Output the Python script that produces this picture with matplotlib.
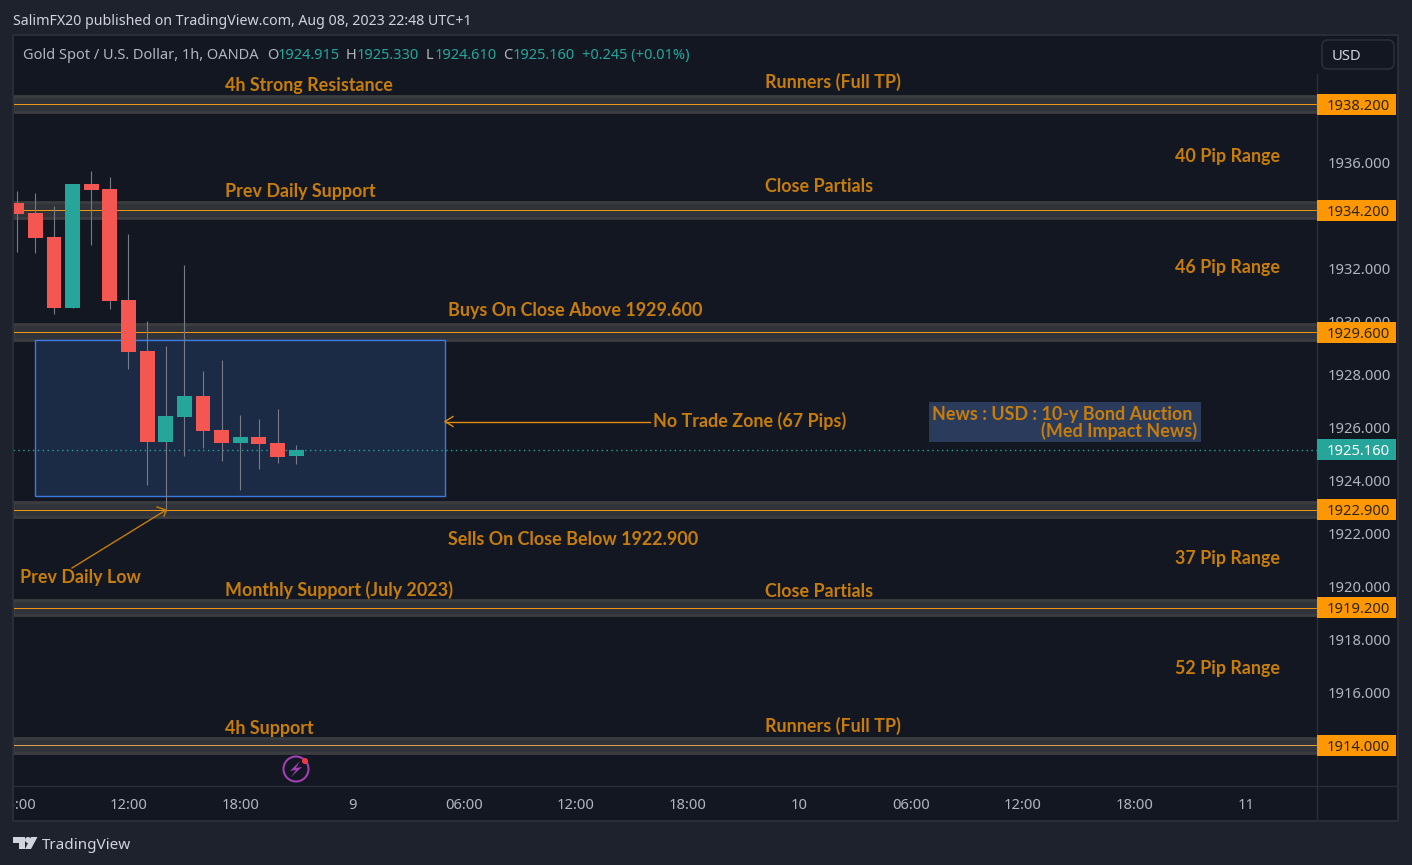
import matplotlib
matplotlib.use("Agg")
import matplotlib.pyplot as plt
from matplotlib.patches import Circle, FancyBboxPatch, Polygon, Rectangle
from matplotlib.lines import Line2D
from matplotlib.transforms import Affine2D, Bbox
import numpy as np

WIDTH, HEIGHT = 1412, 865
UI_FONT = "Noto Sans"
NOTE_FONT = "Lato"

BG_OUTER = "#1e222d"
BG_PANE = "#131722"
BORDER = "#2a2e39"
UP = "#26a69a"
DOWN = "#f45751"
WICK = "#787b86"
NOTE = "#c77d0b"
TAG = "#ff9800"
TICK_TEXT = "#b2b5be"

# hourly candles, hours counted from Aug 8 00:00
hours = np.arange(6, 22)
opens = [1934.46, 1934.09, 1933.18, 1930.51, 1935.18, 1934.99, 1930.80, 1928.88,
         1925.45, 1926.38, 1927.18, 1925.89, 1925.40, 1925.63, 1925.40, 1924.915]
closes = [1934.06, 1933.14, 1930.51, 1935.18, 1934.95, 1930.78, 1928.84, 1925.45,
          1926.42, 1927.18, 1925.86, 1925.40, 1925.63, 1925.37, 1924.87, 1925.16]
highs = [1934.92, 1934.84, 1934.35, 1935.18, 1935.67, 1935.44, 1933.29, 1930.01,
         1929.06, 1932.12, 1928.12, 1928.54, 1926.46, 1926.31, 1926.69, 1925.33]
lows = [1932.62, 1932.59, 1930.28, 1930.51, 1932.89, 1930.47, 1928.20, 1923.82,
        1922.81, 1924.91, 1925.21, 1924.72, 1923.63, 1924.42, 1924.65, 1924.61]

levels = [1938.2, 1934.2, 1929.6, 1922.9, 1919.2, 1914.0]
last_price = 1925.16
zone_hours = [7, 29]
zone_prices = [1923.40, 1929.30]

# 1934 sits fully under its neighbouring level tag
price_ticks = [1916, 1918, 1920, 1922, 1924, 1926, 1928, 1930, 1932, 1936]
time_ticks = [6, 12, 18, 24, 30, 36, 42, 48, 54, 60, 66, 72]
time_labels = ["06:00", "12:00", "18:00", "9", "06:00", "12:00", "18:00", "10",
               "06:00", "12:00", "18:00", "11"]

fig = plt.figure(figsize=(WIDTH / 100, HEIGHT / 100), dpi=100, facecolor=BG_OUTER)
# pixel coordinates with the origin at the top left
px = Affine2D().scale(1, -1).translate(0, HEIGHT)

PANE_L, PANE_R, PANE_T, PANE_B = 13, 1317, 35, 786
ax = fig.add_axes([PANE_L / WIDTH, 1 - PANE_B / HEIGHT,
                   (PANE_R - PANE_L) / WIDTH, (PANE_B - PANE_T) / HEIGHT],
                  facecolor=BG_PANE)
ax.set_xlim(5.80, 75.80)
ax.set_ylim(1912.47, 1940.81)
for s in ax.spines.values():
    s.set_visible(False)


def rect(x0, y0, x1, y1, **kw):
    fig.add_artist(Rectangle((x0, y0), x1 - x0, y1 - y0, transform=px, **kw))


def line(xs, ys, color, lw=1.0, z=3):
    fig.add_artist(Line2D(xs, ys, transform=px, color=color, lw=lw, zorder=z))


def note(x, y, s, color=NOTE, size=12.9, weight="bold", ha="left", font=NOTE_FONT, z=6):
    fig.text(x, y - 0.4, s, transform=px, color=color, fontsize=size, fontweight=weight,
             ha=ha, va="center_baseline", family=font, zorder=z)


# backgrounds behind the price and time scales
rect(PANE_R, 35, 1398, 821, facecolor=BG_PANE, edgecolor="none", zorder=-1)
rect(13, PANE_B, PANE_R, 821, facecolor=BG_PANE, edgecolor="none", zorder=-1)

# axes, price on the right and time below
ax.yaxis.tick_right()
ax.set_yticks(price_ticks)
ax.set_yticklabels([f"{p:.3f}" for p in price_ticks], family=UI_FONT, fontsize=10.6,
                   color=TICK_TEXT)
ax.set_xticks(time_ticks)
ax.set_xticklabels(time_labels, family=UI_FONT, fontsize=10.6, color=TICK_TEXT)
ax.tick_params(axis="both", length=0)
ax.tick_params(axis="y", pad=8)
ax.tick_params(axis="x", pad=8.8)
for lab, txt in zip(ax.get_xticklabels(), time_labels):
    if ":" not in txt:
        lab.set_fontweight("bold")
# the first time label is cut by the pane edge
ax.get_xticklabels()[0].set_clip_box(Bbox([[PANE_L, 0], [PANE_R, HEIGHT]]))
ax.get_xticklabels()[0].set_clip_on(True)

# level bands
for lev in levels:
    ax.axhspan(lev - 0.29, lev + 0.29, facecolor="#31333b", edgecolor="#3c3d40", lw=2.0, zorder=1)
    col = "#dba24c" if lev == 1914.0 else "#f0950f"
    ax.axhline(lev, color=col, lw=0.72, zorder=1.5, snap=True)

# no trade zone
ax.add_patch(Rectangle((zone_hours[0], zone_prices[0]), zone_hours[1] - zone_hours[0],
                       zone_prices[1] - zone_prices[0], facecolor="#1b2a45",
                       edgecolor="#3b7be0", lw=1.0, zorder=1.2))

ax.axhline(last_price, color=UP, lw=1.0, ls=(0, (1, 2.5)), zorder=1.6)

# candles
o, c, h, l = map(np.array, (opens, closes, highs, lows))
colors = [UP if b >= a else DOWN for a, b in zip(o, c)]
ax.vlines(hours, l, h, color=WICK, lw=0.8, zorder=2)
ax.bar(hours, np.abs(c - o), bottom=np.minimum(o, c), width=0.8, color=colors, lw=0, zorder=2.2)

# chart notes
note(225, 84, "4h Strong Resistance")
note(765, 81, "Runners (Full TP)")
note(1175, 155, "40 Pip Range")
note(225, 190, "Prev Daily Support")
note(765, 185, "Close Partials")
note(1175, 266, "46 Pip Range")
note(448, 309, "Buys On Close Above 1929.600")
note(653, 420, "No Trade Zone (67 Pips)")
note(448, 538, "Sells On Close Below 1922.900")
note(1175, 557, "37 Pip Range")
note(20, 576, "Prev Daily Low")
note(225, 589, "Monthly Support (July 2023)")
note(765, 590, "Close Partials")
note(1175, 667, "52 Pip Range")
note(225, 727, "4h Support")
note(765, 725, "Runners (Full TP)")

# news box
rect(929, 402, 1201, 442, facecolor="#2a3b5c", edgecolor="none", zorder=4)
note(932, 413, "News : USD : 10-y Bond Auction")
note(1197, 430, "(Med Impact News)", ha="right")

# arrows
line([650, 445], [421.5, 421.5], "#e08c0c")
line([453, 445, 453], [416.5, 421.5, 426.5], "#e08c0c")
line([72, 166], [568, 510], "#c77d0b")
line([157, 166, 164], [507, 510, 516], "#c77d0b")

# price axis tags
line([PANE_R, PANE_R], [74, PANE_B], BORDER)
for lev in levels:
    yc = 427.5 - (lev - 1926) * 26.5
    rect(PANE_R, yc - 10.5, 1396, yc + 10.5, facecolor=TAG, edgecolor="none", zorder=5)
    note(1358, yc + 0.6, f"{lev:.3f}", color="#2b2413", size=10.6, weight="normal", ha="center", font=UI_FONT)
yc = 427.5 - (last_price - 1926) * 26.5
rect(PANE_R, yc - 10.5, 1396, yc + 10.5, facecolor=UP, edgecolor="none", zorder=5)
note(1358, yc + 0.6, f"{last_price:.3f}", color="#ffffff", size=10.6, weight="normal", ha="center", font=UI_FONT)

# frame and currency button
rect(13, 35, 1398, 821, facecolor="none", edgecolor=BORDER, lw=1.4, zorder=7)
line([13, 1398], [PANE_B, PANE_B], BORDER, z=3)
line([PANE_R, PANE_R], [PANE_B, 821], BORDER, z=3)
fig.add_artist(FancyBboxPatch((1322, 40), 72, 29, boxstyle="round,pad=0,rounding_size=6",
                              transform=px, facecolor=BG_PANE, edgecolor=BORDER, lw=1.2, zorder=4))
note(1346, 55, "USD", color="#d1d4dc", size=10.6, weight="normal", ha="center", font=UI_FONT)

# header and symbol legend
note(13, 20, "SalimFX20 published on TradingView.com, Aug 08, 2023 22:48 UTC+1", color="#d1d4dc",
     size=10.2, weight="normal", font=UI_FONT)
note(23, 54, "Gold Spot / U.S. Dollar, 1h, OANDA", color=TICK_TEXT, size=10.5, weight="normal", font=UI_FONT)
for x, s, col in [(267, "O", TICK_TEXT), (278, "1924.915", UP), (346, "H", TICK_TEXT), (357, "1925.330", UP),
                  (426, "L", TICK_TEXT), (435, "1924.610", UP), (503, "C", TICK_TEXT), (513, "1925.160", UP),
                  (582, "+0.245 (+0.01%)", UP)]:
    note(x, 54, s, color=col, size=10.5, weight="normal", font=UI_FONT)

# news event marker
fig.add_artist(Circle((296, 769), 12.5, transform=px, facecolor="none", edgecolor="#a23fb5", lw=1.5, zorder=4))
fig.add_artist(Polygon([(300, 761), (290, 771), (296, 770), (291, 777), (302, 767), (296, 768)],
                       transform=px, facecolor="#a23fb5", edgecolor="none", zorder=4))
fig.add_artist(Circle((305, 761), 3, transform=px, facecolor="#f23645", edgecolor="none", zorder=5))

# footer logo
logo = "#d1d4dc"
fig.add_artist(Polygon([(13, 837), (25, 837), (25, 849), (19, 849), (19, 843), (13, 843)],
                       transform=px, facecolor=logo, edgecolor="none"))
fig.add_artist(Circle((28, 840), 3, transform=px, facecolor=logo, edgecolor="none"))
fig.add_artist(Polygon([(31, 837), (37.5, 837), (31, 849), (25, 849)], transform=px, facecolor=logo, edgecolor="none"))
note(42, 844, "TradingView", color="#d1d4dc", size=11, weight="normal", font=UI_FONT)

fig.savefig("out.png", dpi=100, facecolor=fig.get_facecolor())
